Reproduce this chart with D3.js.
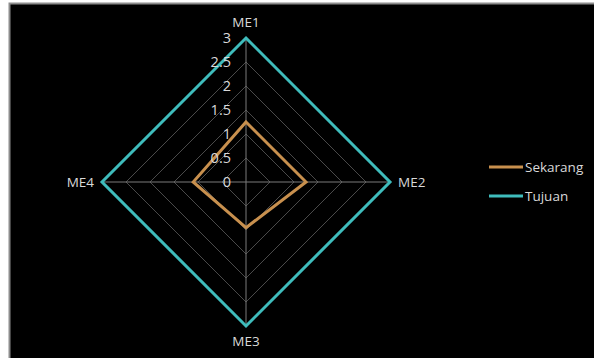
<!DOCTYPE html>
<html>
<head>
<meta charset="utf-8">
<script src="https://cdn.jsdelivr.net/npm/d3@7"></script>
<style>
  body { margin: 0; background: #fff; }
  text { font-family: "Open Sans", "Noto Sans", sans-serif; }
</style>
</head>
<body>
<div id="chart"></div>
<script>
// Data
const axesNames = ["ME1", "ME2", "ME3", "ME4"];
const sekarang = [1.25, 1.25, 0.95, 1.1];
const tujuan = [3, 3, 3, 3];
const ticks = [0, 0.5, 1, 1.5, 2, 2.5, 3];
const seriesNames = ["Sekarang", "Tujuan"];
const seriesColors = ["#c8904e", "#3fbcbc"];

const W = 594, H = 358;
const cx = 246, cy = 182, R = 144;

const svg = d3.select("#chart")
    .append("svg")
    .attr("width", W)
    .attr("height", H);

// frame
svg.append("rect")
    .attr("x", 9.5).attr("y", 3.5)
    .attr("width", W).attr("height", H)
    .attr("fill", "#000")
    .attr("stroke", "#8c8c8c")
    .attr("stroke-width", 2);

const r = d3.scaleLinear().domain([0, 3]).range([0, R]);
const angle = d3.scaleLinear().domain([0, axesNames.length]).range([0, 2 * Math.PI]);

const pt = (i, v) => [cx + r(v) * Math.sin(angle(i)), cy - r(v) * Math.cos(angle(i))];

const g = svg.append("g");

// gridlines (rings)
ticks.filter(t => t > 0).forEach(t => {
    g.append("polygon")
        .attr("points", axesNames.map((_, i) => pt(i, t).join(",")).join(" "))
        .attr("fill", "none")
        .attr("stroke", "#4a4a4a")
        .attr("stroke-width", 1);
});

// spokes
axesNames.forEach((_, i) => {
    const [x, y] = pt(i, 3);
    g.append("line")
        .attr("x1", cx).attr("y1", cy)
        .attr("x2", x).attr("y2", y)
        .attr("stroke", "#7a7a7a")
        .attr("stroke-width", 1);
});

// series
const line = d3.line().curve(d3.curveLinearClosed);
[sekarang, tujuan].forEach((vals, s) => {
    g.append("path")
        .attr("d", line(vals.map((v, i) => pt(i, v))))
        .attr("fill", "none")
        .attr("stroke", seriesColors[s])
        .attr("stroke-width", 3)
        .attr("stroke-linejoin", "miter");
});

// tick labels
g.selectAll(".tick")
    .data(ticks)
    .enter()
    .append("text")
    .attr("x", cx - 15)
    .attr("y", d => cy - r(d))
    .attr("dy", "0.35em")
    .attr("text-anchor", "end")
    .attr("fill", "#d9d9d9")
    .attr("font-size", 14.5)
    .text(d => d);

// axis labels
const labelPos = [
    { x: cx, y: 27, anchor: "middle" },
    { x: cx + R + 8, y: cy + 5, anchor: "start" },
    { x: cx, y: 346, anchor: "middle" },
    { x: cx - R - 8, y: cy + 5, anchor: "end" }
];
axesNames.forEach((name, i) => {
    g.append("text")
        .attr("x", labelPos[i].x)
        .attr("y", labelPos[i].y)
        .attr("text-anchor", labelPos[i].anchor)
        .attr("fill", "#d9d9d9")
        .attr("font-size", 13.5)
        .text(name);
});

// legend
const legend = svg.append("g").attr("transform", "translate(489,167)");
seriesNames.forEach((name, i) => {
    legend.append("line")
        .attr("x1", 0).attr("x2", 34)
        .attr("y1", i * 29).attr("y2", i * 29)
        .attr("stroke", seriesColors[i])
        .attr("stroke-width", 3);
    legend.append("text")
        .attr("x", 36)
        .attr("y", i * 29)
        .attr("dy", "0.35em")
        .attr("fill", "#d9d9d9")
        .attr("font-size", 13.5)
        .text(name);
});
</script>
</body>
</html>
